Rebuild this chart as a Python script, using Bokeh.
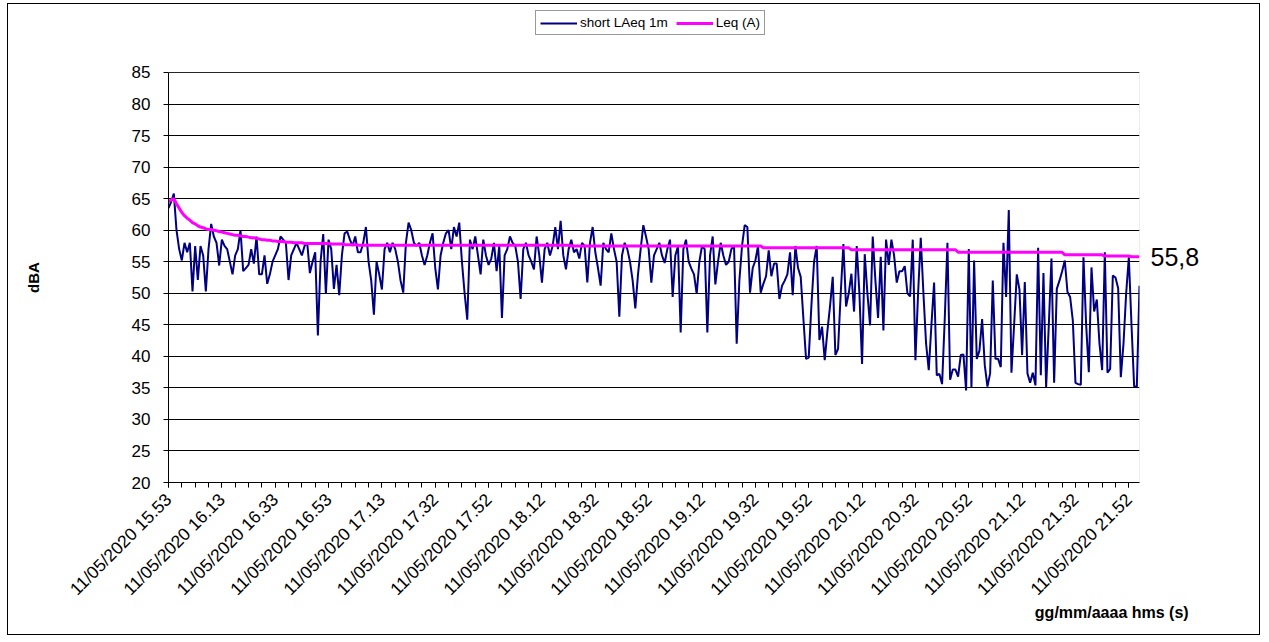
import math
from bokeh.plotting import figure
from bokeh.models import Range1d, FixedTicker, Legend, LegendItem, LinearAxis, ColumnDataSource, BoxAnnotation
from bokeh.embed import file_html
from bokeh.resources import INLINE

tick_index = [0, 20, 40, 60, 80, 100, 120, 140, 160, 180, 200, 220, 240, 260, 280, 300, 320, 340, 360]
tick_labels = ["11/05/2020 15.53", "11/05/2020 16.13", "11/05/2020 16.33", "11/05/2020 16.53",
               "11/05/2020 17.13", "11/05/2020 17.32", "11/05/2020 17.52", "11/05/2020 18.12",
               "11/05/2020 18.32", "11/05/2020 18.52", "11/05/2020 19.12", "11/05/2020 19.32",
               "11/05/2020 19.52", "11/05/2020 20.12", "11/05/2020 20.32", "11/05/2020 20.52",
               "11/05/2020 21.12", "11/05/2020 21.32", "11/05/2020 21.52"]
y_ticks = [20, 25, 30, 35, 40, 45, 50, 55, 60, 65, 70, 75, 80, 85]

short_laeq = [
    63.5, 64.5, 65.8, 60, 57, 55.2, 58, 56.5, 58, 50.3,
    57.5, 52.1, 57.5, 56, 50.3, 57, 61, 59, 58, 54.4,
    58.5, 57.5, 57, 55, 53, 56, 57, 60, 53.5, 54,
    54.5, 57, 54.7, 59, 53, 53, 56, 51.5, 53, 55,
    56, 57, 59, 58.5, 58, 52.1, 56, 57, 58, 57,
    56, 57.5, 58, 53.2, 55, 56.5, 43.3, 55, 59.4, 49.9,
    58.5, 57, 50.7, 54.5, 49.7, 56, 59.5, 59.8, 58.5, 57.5,
    59, 56.5, 56.5, 58, 60.5, 55, 52, 46.6, 55, 53,
    50.6, 57, 58, 56.5, 58, 57, 55, 52, 50.1, 58,
    61.2, 60, 58, 57.5, 58, 56, 54.5, 56, 58, 59.5,
    54, 50.6, 56, 58, 59.5, 60, 57, 60.5, 59, 61.2,
    55, 50, 45.8, 58.5, 57, 59, 56, 53, 58.5, 56,
    54.5, 55.5, 58, 53.5, 57.5, 46.1, 56, 57, 59, 58,
    57.5, 55, 49.1, 57, 58, 56, 55, 53.8, 59, 56,
    51.7, 57, 58, 56, 57.5, 60.5, 57, 61.5, 56, 53.8,
    57, 58.5, 56.5, 57, 55.5, 58, 57.5, 51.7, 58, 60.5,
    56.5, 54, 51.2, 58, 57, 56.5, 59.5, 57, 55, 46.3,
    56, 58, 57, 55, 52, 47.6, 53, 57, 60.8, 59,
    57, 51.7, 56, 57, 58, 56, 54.8, 57, 58.5, 49.4,
    56, 57.5, 43.8, 57, 58.5, 55, 53.9, 53, 49.9, 55,
    57.5, 57, 43.8, 56, 59, 51.4, 55, 58, 56, 54.5,
    55, 57, 57.5, 42, 52, 57.5, 60.8, 60.5, 50.1, 54,
    55.2, 57.5, 50.1, 51.5, 52.7, 56.8, 52.7, 54.7, 54.7, 49.1,
    51.2, 52, 53, 56.5, 49.7, 57.5, 54, 52.6, 46, 39.6,
    39.8, 48, 55, 57.5, 42.6, 44.7, 39.4, 44, 48, 52.6,
    40.2, 41.2, 50, 57.8, 47.9, 50, 53.1, 47.1, 57.5, 50,
    38.8, 56.2, 50, 44.9, 59, 52, 46.1, 55.8, 44.1, 58.5,
    54.5, 58.5, 56, 51.7, 53.5, 53.5, 54.3, 50, 49.5, 58.5,
    39.4, 50, 58.8, 50, 42, 37.8, 45, 51.7, 37, 37.2,
    35.6, 46, 58, 36.3, 37.9, 37.9, 36.8, 40.2, 40.3, 34.6,
    57, 35.1, 55.2, 39.6, 40.9, 45.9, 38.6, 35.2, 37.3, 52,
    39.6, 39.6, 38.3, 58, 49.4, 63.2, 37.4, 45, 53, 50.6,
    40.2, 51.8, 37.3, 35.8, 37.4, 35.4, 57.2, 37, 53.2, 35.1,
    45, 55.5, 35.8, 50.7, 52, 53.5, 55.2, 50.2, 49.4, 45.7,
    35.8, 35.6, 35.5, 55.7, 45, 37.5, 54.1, 47.1, 49, 42,
    37.8, 56.5, 37.4, 38, 52.8, 52.5, 50.8, 36.7, 42, 50,
    55.7, 45, 35.2, 35.2, 51.2,
]

leq_a = [
    64.5, 64.8, 65.0, 64.2, 63.5, 62.8, 62.3, 61.9, 61.6, 61.2,
    61.0, 60.7, 60.5, 60.4, 60.2, 60.1, 60.1, 60.0, 59.9, 59.8,
    59.7, 59.6, 59.5, 59.4, 59.3, 59.2, 59.2, 59.1, 59.0, 59.0,
    58.9, 58.8, 58.8, 58.7, 58.6, 58.5, 58.5, 58.4, 58.4, 58.3,
    58.3, 58.2, 58.2, 58.2, 58.1, 58.1, 58.1, 58.0, 58.0, 58.0,
    58.0, 57.9, 57.9, 57.9, 57.9, 57.9, 57.9, 57.9, 57.9, 57.9,
    57.9, 57.8, 57.8, 57.8, 57.8, 57.8, 57.7, 57.7, 57.7, 57.7,
    57.7, 57.6, 57.6, 57.6, 57.6, 57.6, 57.6, 57.6, 57.6, 57.6,
    57.6, 57.6, 57.6, 57.6, 57.6, 57.6, 57.6, 57.6, 57.6, 57.6,
    57.6, 57.6, 57.6, 57.6, 57.6, 57.6, 57.6, 57.6, 57.6, 57.6,
    57.6, 57.6, 57.6, 57.6, 57.6, 57.6, 57.6, 57.6, 57.6, 57.6,
    57.6, 57.6, 57.6, 57.6, 57.6, 57.6, 57.6, 57.6, 57.6, 57.6,
    57.6, 57.6, 57.6, 57.6, 57.6, 57.6, 57.6, 57.6, 57.6, 57.6,
    57.6, 57.6, 57.6, 57.6, 57.6, 57.6, 57.6, 57.6, 57.6, 57.6,
    57.6, 57.6, 57.6, 57.6, 57.6, 57.6, 57.6, 57.6, 57.6, 57.6,
    57.6, 57.5, 57.5, 57.5, 57.5, 57.5, 57.5, 57.5, 57.5, 57.5,
    57.5, 57.5, 57.5, 57.5, 57.5, 57.5, 57.5, 57.5, 57.5, 57.5,
    57.5, 57.5, 57.5, 57.5, 57.5, 57.5, 57.5, 57.5, 57.5, 57.5,
    57.5, 57.5, 57.5, 57.5, 57.5, 57.5, 57.5, 57.5, 57.5, 57.5,
    57.5, 57.5, 57.5, 57.5, 57.5, 57.5, 57.5, 57.5, 57.5, 57.5,
    57.5, 57.5, 57.5, 57.5, 57.5, 57.5, 57.5, 57.5, 57.5, 57.5,
    57.5, 57.5, 57.5, 57.5, 57.5, 57.5, 57.5, 57.5, 57.5, 57.5,
    57.5, 57.5, 57.5, 57.2, 57.2, 57.2, 57.2, 57.2, 57.2, 57.2,
    57.2, 57.2, 57.2, 57.2, 57.2, 57.2, 57.2, 57.2, 57.2, 57.2,
    57.2, 57.2, 57.2, 57.2, 57.2, 57.2, 57.2, 57.2, 57.2, 57.2,
    57.2, 57.2, 57.2, 57.2, 57.2, 57.2, 56.9, 56.9, 56.9, 56.9,
    56.9, 56.9, 56.9, 56.9, 56.9, 56.9, 56.9, 56.9, 56.9, 56.9,
    56.9, 56.9, 56.9, 56.9, 56.9, 56.9, 56.9, 56.9, 56.9, 56.9,
    56.9, 56.9, 56.9, 56.9, 56.9, 56.9, 56.9, 56.9, 56.9, 56.9,
    56.9, 56.9, 56.9, 56.9, 56.9, 56.9, 56.5, 56.5, 56.5, 56.5,
    56.5, 56.5, 56.5, 56.5, 56.5, 56.5, 56.5, 56.5, 56.5, 56.5,
    56.5, 56.5, 56.5, 56.5, 56.5, 56.5, 56.5, 56.5, 56.5, 56.5,
    56.5, 56.5, 56.5, 56.5, 56.5, 56.5, 56.5, 56.5, 56.5, 56.5,
    56.5, 56.5, 56.5, 56.5, 56.5, 56.5, 56.1, 56.1, 56.1, 56.1,
    56.1, 56.1, 56.1, 56.1, 56.1, 56.1, 56.1, 56.1, 56.1, 56.1,
    56.1, 55.9, 55.9, 55.9, 55.9, 55.9, 55.9, 55.9, 55.9, 55.9,
    55.9, 55.8, 55.8, 55.8, 55.8,
]

FONT = "Liberation Sans"
Y_MIN, Y_MAX = 20, 85
X_MIN, X_MAX = 0, 364
TITLE_X = 353.6          # horizontal centre of the x-axis title (data units)

src_short = ColumnDataSource(dict(x=list(range(len(short_laeq))), y=short_laeq))
src_leq = ColumnDataSource(dict(x=list(range(len(leq_a))), y=leq_a))

# the frame reaches the top of the chart so the legend (drawn inside it) is not clipped;
# the plot area proper is the 20..85 band, framed by the axes and a box
p = figure(width=1253, height=632, output_backend="svg", toolbar_location=None,
           x_range=Range1d(X_MIN, X_MAX), y_range=Range1d(Y_MIN, Y_MAX + 478 / 6.3077 - 65),
           min_border_left=160, min_border_right=122, min_border_top=0, min_border_bottom=154,
           background_fill_color="white", border_fill_color="white")
p.styles = {"border": "1px solid black", "margin-left": "7px", "margin-top": "3px"}
p.outline_line_color = None

p.add_layout(BoxAnnotation(left=X_MIN, right=X_MAX, bottom=Y_MIN, top=Y_MAX,
                           fill_alpha=0, line_color="#808080", line_width=1, level="underlay"))

# grid
p.xgrid.grid_line_color = None
p.ygrid.grid_line_color = "black"
p.ygrid.grid_line_width = 1

# y axis
ya = p.yaxis[0]
ya.ticker = FixedTicker(ticks=y_ticks)
ya.bounds = (Y_MIN, Y_MAX)
ya.axis_line_color = "black"
ya.major_tick_in = 0
ya.major_tick_out = 5
ya.minor_tick_out = 0
ya.minor_tick_in = 0
ya.major_label_text_font = FONT
ya.major_label_text_font_size = "17px"
ya.major_label_text_color = "black"
ya.major_label_standoff = 13

# y-axis title, centred on the 20..85 band
ytitle_axis = LinearAxis(ticker=FixedTicker(ticks=[(Y_MIN + Y_MAX) / 2]),
                         major_label_overrides={(Y_MIN + Y_MAX) / 2: "dBA"},
                         major_label_orientation="vertical",
                         axis_line_color=None, major_tick_line_color=None, minor_tick_line_color=None,
                         major_tick_out=0, major_tick_in=0, minor_tick_out=0, minor_tick_in=0,
                         major_label_text_font=FONT, major_label_text_font_style="bold",
                         major_label_text_font_size="15px", major_label_text_color="black",
                         major_label_standoff=86)
p.add_layout(ytitle_axis, "left")

# x axis
xa = p.xaxis[0]
xa.ticker = FixedTicker(ticks=tick_index, minor_ticks=list(range(0, 365, 5)))
xa.major_label_overrides = {t: lab for t, lab in zip(tick_index, tick_labels)}
xa.major_label_orientation = math.pi / 4
xa.axis_line_color = "black"
xa.major_tick_in = 0
xa.major_tick_out = 5
xa.minor_tick_in = 0
xa.minor_tick_out = 5
xa.major_label_text_font = FONT
xa.major_label_text_font_size = "17.5px"
xa.major_label_text_color = "black"
xa.major_label_standoff = 9

title_axis = LinearAxis(ticker=FixedTicker(ticks=[TITLE_X]),
                        major_label_overrides={TITLE_X: "gg/mm/aaaa hms (s)"},
                        axis_line_color=None, major_tick_line_color=None, minor_tick_line_color=None,
                        major_tick_out=0, major_tick_in=0, minor_tick_out=0, minor_tick_in=0,
                        major_label_text_font=FONT, major_label_text_font_style="bold",
                        major_label_text_font_size="16px", major_label_text_color="black",
                        major_label_standoff=-6)
p.add_layout(title_axis, "below")

r1 = p.line("x", "y", source=src_short, line_color="#000080", line_width=2)
r2 = p.line("x", "y", source=src_leq, line_color="#FF00FF", line_width=3)

# final Leq value shown at the right of the plot
end_axis = LinearAxis(ticker=FixedTicker(ticks=[leq_a[-1]]),
                      major_label_overrides={leq_a[-1]: f"{leq_a[-1]:.1f}".replace(".", ",")},
                      axis_line_color=None, major_tick_line_color=None, minor_tick_line_color=None,
                      major_tick_out=0, major_tick_in=0, minor_tick_out=0, minor_tick_in=0,
                      major_label_text_font=FONT, major_label_text_font_size="25px",
                      major_label_text_color="black", major_label_standoff=11)
p.add_layout(end_axis, "right")

legend = Legend(items=[LegendItem(label="short LAeq 1m", renderers=[r1]),
                       LegendItem(label="Leq (A)", renderers=[r2])],
                orientation="horizontal", location=(367, 447),
                label_text_font=FONT, label_text_font_size="13.5px", label_text_color="black",
                glyph_width=37, glyph_height=14, label_height=14, label_standoff=3,
                spacing=8, padding=4, margin=0,
                border_line_color="#333333", border_line_width=1,
                background_fill_color="white", background_fill_alpha=1)
p.add_layout(legend, "center")

open("out.html", "w").write(file_html(p, INLINE))
